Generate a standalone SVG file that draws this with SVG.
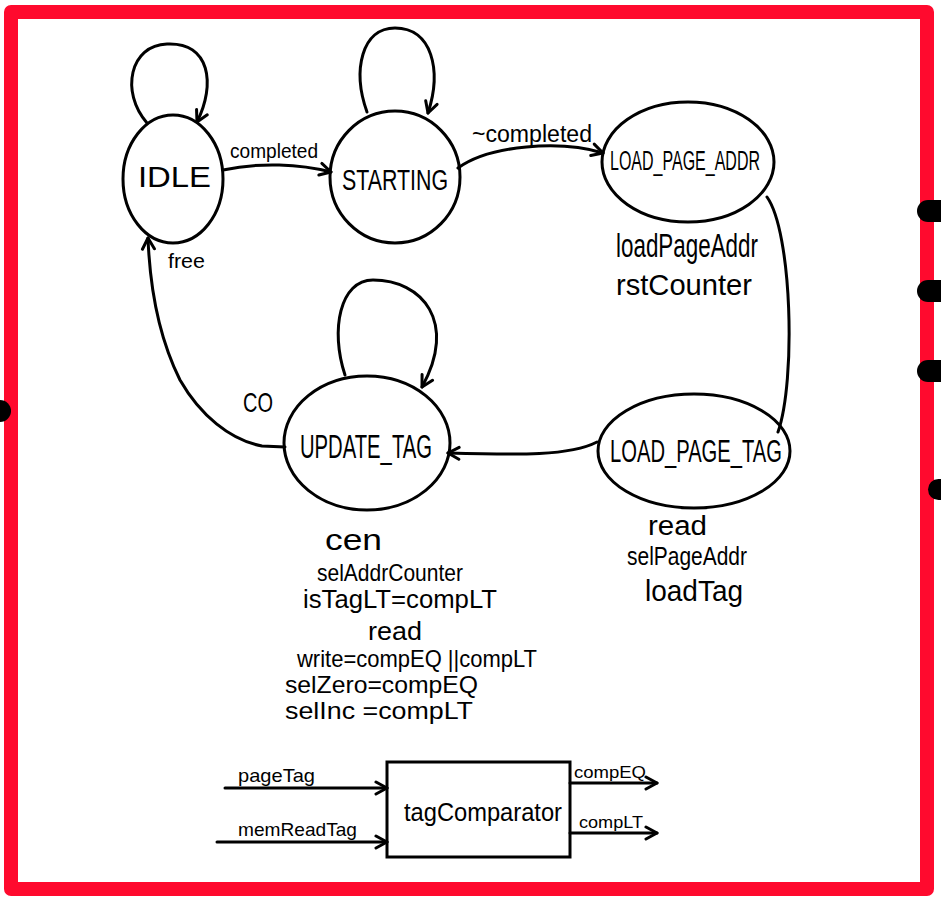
<svg xmlns="http://www.w3.org/2000/svg" width="941" height="902" viewBox="0 0 941 902">
<defs>
<style>
.st{fill:none;stroke:#000;stroke-width:3}
.ln{fill:none;stroke:#000;stroke-width:3;stroke-linecap:round}
.t{font-family:"Liberation Sans",Arial,sans-serif;fill:#000}
</style>
<marker id="arr" viewBox="0 0 16 16" refX="14" refY="8" markerWidth="16" markerHeight="16" markerUnits="userSpaceOnUse" orient="auto">
<path d="M3,2 L14,8 L3,14" fill="none" stroke="#000" stroke-width="3" stroke-linecap="round" stroke-linejoin="round"/>
</marker>
</defs>
<rect x="0" y="0" width="941" height="902" fill="#fff"/>
<rect x="11" y="12" width="916" height="877" fill="none" stroke="#ff0a2e" stroke-width="14" stroke-linejoin="round"/>
<g id="dots" fill="#000">
<rect x="917" y="200" width="40" height="22" rx="11"/>
<rect x="917" y="280" width="40" height="22" rx="11"/>
<rect x="917" y="360" width="40" height="22" rx="11"/>
<rect x="928" y="479" width="40" height="21" rx="10.5"/>
<circle cx="0" cy="411" r="11"/>
</g>
<g id="connectors">
<path class="ln" d="M147,123 C120,92 130,45 167,44 C210,42 216,84 197,122" marker-end="url(#arr)"/>
<path class="ln" d="M367,112 C352,70 362,28 395,28 C432,28 442,70 428,113" marker-end="url(#arr)"/>
<path class="ln" d="M223,170 C260,162 300,164 331,172" marker-end="url(#arr)"/>
<path class="ln" d="M458,168 C490,145 560,140 603,153" marker-end="url(#arr)"/>
<path class="ln" d="M767,197 C792,232 796,380 778,432"/>
<path class="ln" d="M597,442 C570,456 520,455 448,453" marker-end="url(#arr)"/>
<path class="ln" d="M345,375 C330,330 340,280 373,280 C422,280 458,322 422,387" marker-end="url(#arr)"/>
<path class="ln" d="M285,447 L262,446 C230,440 200,415 180,380 C160,340 150,290 148,238" marker-end="url(#arr)"/>
<path class="ln" d="M225,788 L387,788" marker-end="url(#arr)"/>
<path class="ln" d="M217,842 L387,842" marker-end="url(#arr)"/>
<path class="ln" d="M570,783 L657,783" marker-end="url(#arr)"/>
<path class="ln" d="M570,833 L657,833" marker-end="url(#arr)"/>
<text class="t" x="230" y="158" font-size="21" textLength="88" lengthAdjust="spacingAndGlyphs">completed</text>
<text class="t" x="472" y="142" font-size="23" textLength="120" lengthAdjust="spacingAndGlyphs">~completed</text>
<text class="t" x="168" y="268" font-size="20" textLength="37" lengthAdjust="spacingAndGlyphs">free</text>
<text class="t" x="243" y="412" font-size="28" textLength="30" lengthAdjust="spacingAndGlyphs">CO</text>
<text class="t" x="238" y="782" font-size="19" textLength="77" lengthAdjust="spacingAndGlyphs">pageTag</text>
<text class="t" x="238" y="836" font-size="19" textLength="119" lengthAdjust="spacingAndGlyphs">memReadTag</text>
<text class="t" x="574" y="778" font-size="17" textLength="72" lengthAdjust="spacingAndGlyphs">compEQ</text>
<text class="t" x="579" y="828" font-size="17" textLength="64" lengthAdjust="spacingAndGlyphs">compLT</text>
</g>
<g id="IDLE">
<ellipse class="st" cx="173" cy="179" rx="50" ry="64"/>
<text class="t" x="138" y="187" font-size="30" textLength="73" lengthAdjust="spacingAndGlyphs">IDLE</text>
</g>
<g id="STARTING">
<ellipse class="st" cx="395" cy="177" rx="65" ry="66"/>
<text class="t" x="342" y="190" font-size="30" textLength="106" lengthAdjust="spacingAndGlyphs">STARTING</text>
</g>
<g id="LOAD_PAGE_ADDR">
<ellipse class="st" cx="688" cy="162" rx="86" ry="60"/>
<text class="t" x="610" y="170" font-size="27" textLength="150" lengthAdjust="spacingAndGlyphs">LOAD_PAGE_ADDR</text>
<text class="t" x="616" y="257" font-size="33" textLength="142" lengthAdjust="spacingAndGlyphs">loadPageAddr</text>
<text class="t" x="616" y="295" font-size="29" textLength="136" lengthAdjust="spacingAndGlyphs">rstCounter</text>
</g>
<g id="LOAD_PAGE_TAG">
<ellipse class="st" cx="694" cy="451" rx="96" ry="57"/>
<text class="t" x="610" y="462" font-size="32" textLength="172" lengthAdjust="spacingAndGlyphs">LOAD_PAGE_TAG</text>
<text class="t" x="648" y="535" font-size="27" textLength="59" lengthAdjust="spacingAndGlyphs">read</text>
<text class="t" x="627" y="565" font-size="26" textLength="120" lengthAdjust="spacingAndGlyphs">selPageAddr</text>
<text class="t" x="645" y="601" font-size="30" textLength="98" lengthAdjust="spacingAndGlyphs">loadTag</text>
</g>
<g id="UPDATE_TAG">
<ellipse class="st" cx="367" cy="443" rx="83" ry="67"/>
<text class="t" x="300" y="458" font-size="33" textLength="132" lengthAdjust="spacingAndGlyphs">UPDATE_TAG</text>
<text class="t" x="325" y="550" font-size="30" textLength="57" lengthAdjust="spacingAndGlyphs">cen</text>
<text class="t" x="317" y="581" font-size="24" textLength="146" lengthAdjust="spacingAndGlyphs">selAddrCounter</text>
<text class="t" x="303" y="608" font-size="26" textLength="194" lengthAdjust="spacingAndGlyphs">isTagLT=compLT</text>
<text class="t" x="368" y="640" font-size="26" textLength="54" lengthAdjust="spacingAndGlyphs">read</text>
<text class="t" x="297" y="667" font-size="24" textLength="240" lengthAdjust="spacingAndGlyphs">write=compEQ ||compLT</text>
<text class="t" x="285" y="693" font-size="24" textLength="193" lengthAdjust="spacingAndGlyphs">selZero=compEQ</text>
<text class="t" x="285" y="719" font-size="24" textLength="188" lengthAdjust="spacingAndGlyphs">selInc =compLT</text>
</g>
<g id="tagComparator">
<rect class="st" x="387" y="762" width="183" height="95"/>
<text class="t" x="404" y="821" font-size="26" textLength="158" lengthAdjust="spacingAndGlyphs">tagComparator</text>
</g>
</svg>
